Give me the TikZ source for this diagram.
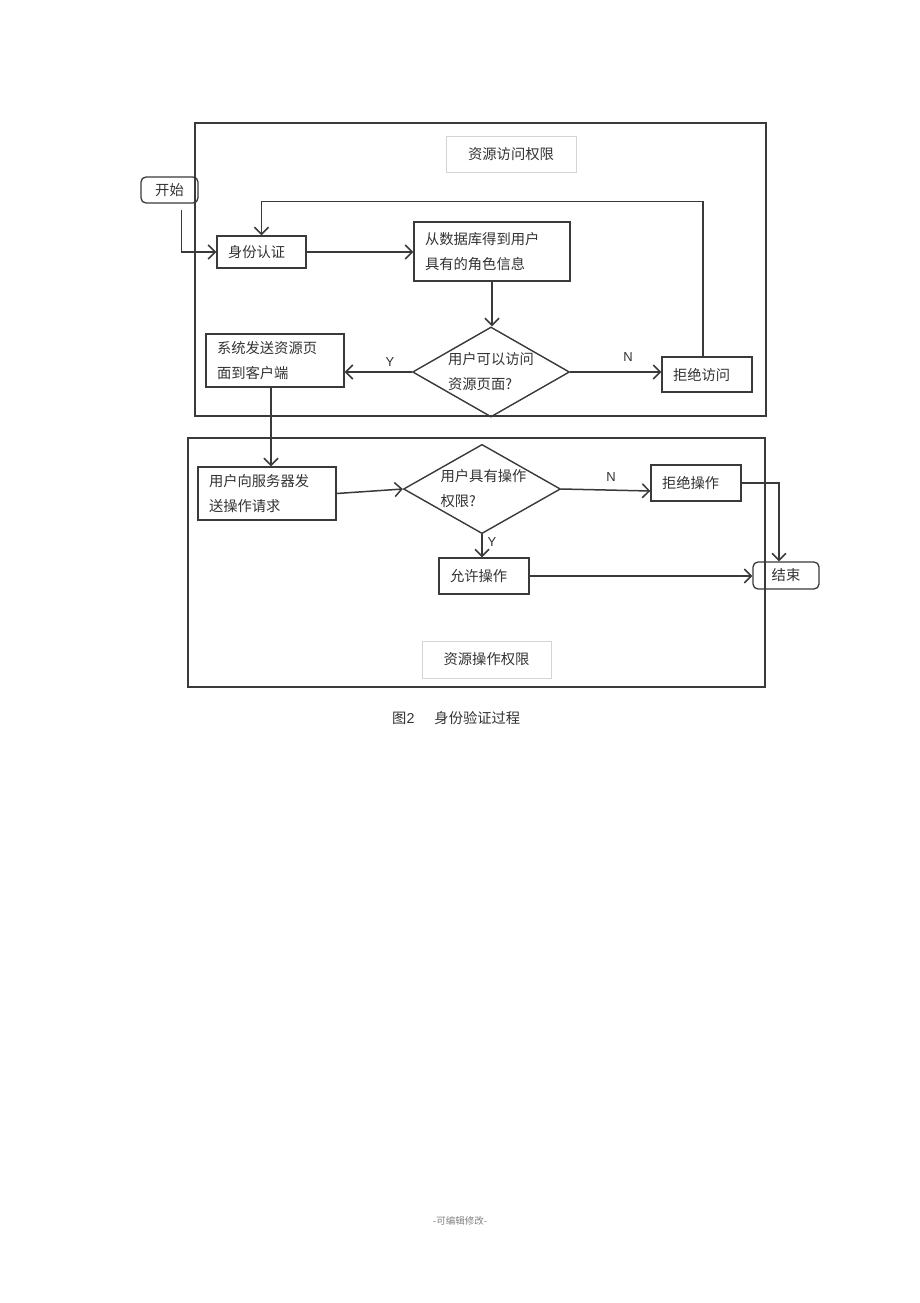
\documentclass[tikz,border=0pt]{standalone}
\usepackage{fontspec}
\setmainfont{Noto Sans CJK SC}
\newfontfamily\latinfont{Liberation Sans}
\usetikzlibrary{shapes.geometric,arrows.meta}
\definecolor{ln}{HTML}{3A3A3A}
\definecolor{tx}{HTML}{333333}
\definecolor{lb}{HTML}{D4D4D4}
\begin{document}
\begin{tikzpicture}[x=1pt,y=-1pt,
  every node/.style={text=tx, font=\fontsize{14.3}{25}\selectfont},
  box/.style={draw=ln, line width=1.4pt, rectangle, inner xsep=11pt, inner ysep=0pt, align=left},
  term/.style={draw=ln, line width=1.3pt, rectangle, rounded corners=5pt, inner sep=0pt, align=center},
  lab/.style={draw=lb, line width=1pt, rectangle, inner sep=0pt, align=center},
  dec/.style={draw=ln, line width=1.4pt, diamond, inner sep=0pt, shape aspect=1.744, minimum width=157pt, minimum height=90pt, align=left},
  yn/.style={font=\latinfont\fontsize{13}{14}\selectfont, inner sep=0pt},
  frame/.style={draw=ln, line width=1.3pt},
  arr/.style={draw=ln, line width=1.5pt, -{Straight Barb[length=7pt,width=14pt]}}
]
\useasboundingbox[fill=white] (0,0) rectangle (920,1303);

% frames
\draw[frame] (195,123) rectangle (766,416);
\draw[frame] (188,438) rectangle (765,687);

% label boxes
\node[lab, minimum width=130pt, minimum height=35pt] (lab1) at (511,154.5) {资源访问权限};
\node[lab, minimum width=129pt, minimum height=37pt] (lab2) at (486.5,659.5) {资源操作权限};

% stage 1
\node[term, minimum width=57pt, minimum height=26pt] (start) at (169.5,190) {开始};
\node[box, text width=67pt, minimum height=32pt] (auth) at (261.5,252) {身份认证};
\node[box, text width=134pt, minimum height=59pt] (db) at (492,251.5) {从数据库得到用户\\具有的角色信息};
\node[dec] (d1) at (491,372) {\raisebox{-4pt}{用户可以访问}\\\raisebox{-4pt}{资源页面?}};
\node[box, text width=116pt, minimum height=53pt] (send) at (275,360.5) {系统发送资源页\\面到客户端};
\node[box, text width=68pt, minimum height=35pt] (deny1) at (707,374.5) {拒绝访问};

% stage 2
\node[box, text width=116pt, minimum height=53pt] (req) at (267,493.5) {用户向服务器发\\送操作请求};
\node[dec, minimum height=89pt] (d2) at (482,489) {\hspace{3pt}\raisebox{-2pt}{用户具有操作}\\\hspace{3pt}\raisebox{-2pt}{权限?}};
\node[box, text width=68pt, minimum height=36pt] (deny2) at (696,483) {拒绝操作};
\node[box, text width=68pt, minimum height=36pt] (allow) at (484,576) {允许操作};
\node[term, minimum width=66pt, minimum height=27pt] (end) at (786,575.5) {结束};

% Y / N labels
\node[yn] (y1) at (390,362) {Y};
\node[yn] (n1) at (628,357) {N};
\node[yn] (n2) at (611,477) {N};
\node[yn] (y2) at (492,542) {Y};

% connectors
\draw[arr] ([xshift=12pt,yshift=-6pt]start.south) |- (auth.west);
\draw[arr] (auth.east) -- (auth.east -| db.west);
\draw[arr] (db.south) -- (db.south |- d1.north);
\draw[arr] (d1.west) -- (d1.west -| send.east);
\draw[arr] (d1.east) -- (d1.east -| deny1.west);
\draw[arr] ([xshift=-4pt]deny1.north) -- ++(0,-155) -| (auth.north);
\draw[arr] ([xshift=-4pt]send.south) -- ([xshift=-4pt]send.south |- req.north);
\draw[arr] (req.east) -- (d2.west);
\draw[arr] (d2.east) -- ([yshift=-8pt]deny2.west);
\draw[arr] (d2.south) -- (d2.south |- allow.north);
\draw[arr] (allow.east) -- (allow.east -| end.west);
\draw[arr] (deny2.east) -| ([xshift=-7pt]end.north);

% caption and footer
\node[anchor=west, inner sep=0pt] (cap) at (392,718) {图{\latinfont 2}\hspace{20pt}身份验证过程};
\node[inner sep=0pt, text=gray, font=\fontsize{9.5}{11}\selectfont] (foot) at (460,1221) {-可编辑修改-};
\end{tikzpicture}
\end{document}
